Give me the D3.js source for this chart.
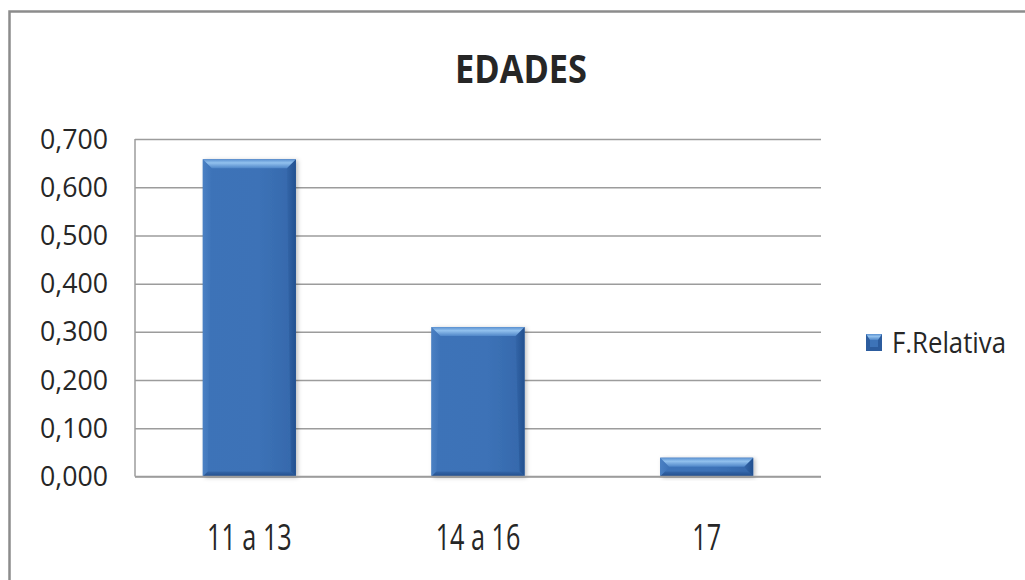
<!DOCTYPE html>
<html>
<head>
<meta charset="utf-8">
<script src="https://cdn.jsdelivr.net/npm/d3@7"></script>
<style>
  body { margin: 0; background: #fff; }
  text { font-family: "Open Sans", sans-serif; fill: #262626; }
</style>
</head>
<body>
<div id="chart"></div>
<script>
// data
let categories = ['11 a 13', '14 a 16', '17'];
let values = [0.658, 0.310, 0.039];
let yTicks = [0, 0.1, 0.2, 0.3, 0.4, 0.5, 0.6, 0.7];
let seriesName = 'F.Relativa';
let title = 'EDADES';

// block
let W = 1025, H = 580;
let plot = {left: 135, right: 821, top: 139, bottom: 476.5};

const svg = d3.select('#chart')
    .append('svg')
    .attr('width', W)
    .attr('height', H);

// outer chart frame (runs off the right and bottom edge)
svg.append('rect')
    .attr('x', 9.5).attr('y', 11.5)
    .attr('width', W + 20).attr('height', H + 20)
    .attr('fill', '#fff')
    .attr('stroke', '#8c8c8c')
    .attr('stroke-width', 2.5);

const defs = svg.append('defs');

function grad(id, horiz, stops) {
    let g = defs.append('linearGradient').attr('id', id)
        .attr('x1', 0).attr('y1', 0)
        .attr('x2', horiz ? 1 : 0).attr('y2', horiz ? 0 : 1);
    stops.forEach(s => g.append('stop').attr('offset', s[0]).attr('stop-color', s[1]));
}
grad('face', true, [['0%', '#3d73b8'], ['60%', '#3c72b7'], ['100%', '#3568ab']]);
grad('topBevel', false, [['0%', '#5a90d0'], ['40%', '#92c1ee'], ['100%', '#4f86c8']]);
grad('leftBevel', true, [['0%', '#4a80c3'], ['100%', '#3d73b8']]);
grad('rightBevel', true, [['0%', '#3466a9'], ['100%', '#22508f']]);
grad('bottomBevel', false, [['0%', '#3466a8'], ['100%', '#214d8c']]);

let shadow = defs.append('filter').attr('id', 'shadow')
    .attr('x', '-10%').attr('y', '-10%').attr('width', '130%').attr('height', '130%');
shadow.append('feDropShadow')
    .attr('dx', 2).attr('dy', 1).attr('stdDeviation', 2)
    .attr('flood-color', '#000').attr('flood-opacity', 0.25);

// scales
let x = d3.scaleBand()
    .domain(categories)
    .range([plot.left, plot.right])
    .paddingInner(0.593)
    .paddingOuter(0.2965);

let y = d3.scaleLinear()
    .domain([0, 0.7])
    .range([plot.bottom, plot.top]);

let pt = d3.formatLocale({decimal: ',', thousands: '.', grouping: [3], currency: ['', '']});
let fmt = pt.format('.3f');

// gridlines + y labels
let yAxis = svg.append('g')
    .attr('transform', 'translate(' + plot.left + ',0)')
    .call(d3.axisLeft(y)
        .tickValues(yTicks)
        .tickSize(-(plot.right - plot.left))
        .tickPadding(27)
        .tickFormat(fmt));
yAxis.select('.domain').remove();
yAxis.selectAll('line')
    .attr('stroke', '#9c9c9c')
    .attr('stroke-width', 1.5);
yAxis.selectAll('text')
    .attr('font-family', '"Open Sans", sans-serif')
    .attr('font-size', 26.5)
    .attr('fill', '#2a2a2a')
    .attr('textLength', 68)
    .attr('lengthAdjust', 'spacingAndGlyphs')
    .attr('dy', '0.34em');

// left axis line
svg.append('line')
    .attr('x1', plot.left).attr('x2', plot.left)
    .attr('y1', y(0.7)).attr('y2', y(0))
    .attr('stroke', '#9c9c9c').attr('stroke-width', 1.5);

// bars
let bev = 9;
let bars = svg.selectAll('.bar')
    .data(values.map((v, i) => ({cat: categories[i], v: v}))).enter()
    .append('g')
    .attr('class', 'bar');

bars.append('rect')
    .attr('x', d => x(d.cat))
    .attr('y', d => y(d.v))
    .attr('width', x.bandwidth())
    .attr('height', d => y(0) - y(d.v))
    .attr('fill', 'url(#face)')
    .attr('filter', 'url(#shadow)');

function bevelPaths(d) {
    let x0 = x(d.cat), x1 = x0 + x.bandwidth();
    let y0 = y(d.v), y1 = y(0);
    let b = Math.min(bev, (y1 - y0) / 2);
    let bs = Math.min(5, b);
    return {
        top: [[x0, y0], [x1, y0], [x1 - b, y0 + b], [x0 + b, y0 + b]],
        left: [[x0, y0], [x0 + b, y0 + b], [x0 + bs, y1 - bs], [x0, y1]],
        right: [[x1, y0], [x1, y1], [x1 - bs, y1 - bs], [x1 - b, y0 + b]],
        bottom: [[x0, y1], [x0 + bs, y1 - bs], [x1 - bs, y1 - bs], [x1, y1]]
    };
}
let line = d3.line();
bars.append('path').attr('d', d => line(bevelPaths(d).left) + 'Z').attr('fill', 'url(#leftBevel)');
bars.append('path').attr('d', d => line(bevelPaths(d).right) + 'Z').attr('fill', 'url(#rightBevel)');
bars.append('path').attr('d', d => line(bevelPaths(d).bottom) + 'Z').attr('fill', 'url(#bottomBevel)');
bars.append('path').attr('d', d => line(bevelPaths(d).top) + 'Z').attr('fill', 'url(#topBevel)');

// bottom axis line
svg.append('line')
    .attr('x1', plot.left).attr('x2', plot.right)
    .attr('y1', y(0)).attr('y2', y(0))
    .attr('stroke', '#9c9c9c').attr('stroke-width', 1.5);

// category labels (condensed look)
svg.selectAll('.cat')
    .data(categories).enter()
    .append('g')
    .attr('class', 'cat')
    .attr('transform', d => 'translate(' + (x(d) + x.bandwidth() / 2) + ',550) scale(0.7,1)')
    .append('text')
    .attr('text-anchor', 'middle')
    .attr('font-size', 36)
    .text(d => d);

// title
svg.append('text')
    .attr('x', 521).attr('y', 83)
    .attr('text-anchor', 'middle')
    .attr('font-size', 39)
    .attr('font-weight', 'bold')
    .attr('fill', '#1a1a1a')
    .attr('textLength', 132)
    .attr('lengthAdjust', 'spacingAndGlyphs')
    .text(title);

// legend
let lg = svg.append('g').attr('transform', 'translate(866,334)');
lg.append('rect')
    .attr('width', 16).attr('height', 17)
    .attr('fill', '#2c5c9e');
lg.append('path')
    .attr('d', 'M0,0 L16,0 L12,6 L4,6 Z')
    .attr('fill', 'url(#topBevel)');
lg.append('path')
    .attr('d', 'M4,6 L12,6 L12,13 L4,13 Z')
    .attr('fill', '#3d73b8');
lg.append('text')
    .attr('x', 26).attr('y', 19)
    .attr('font-size', 30)
    .attr('textLength', 114)
    .attr('lengthAdjust', 'spacingAndGlyphs')
    .text(seriesName);
</script>
</body>
</html>
